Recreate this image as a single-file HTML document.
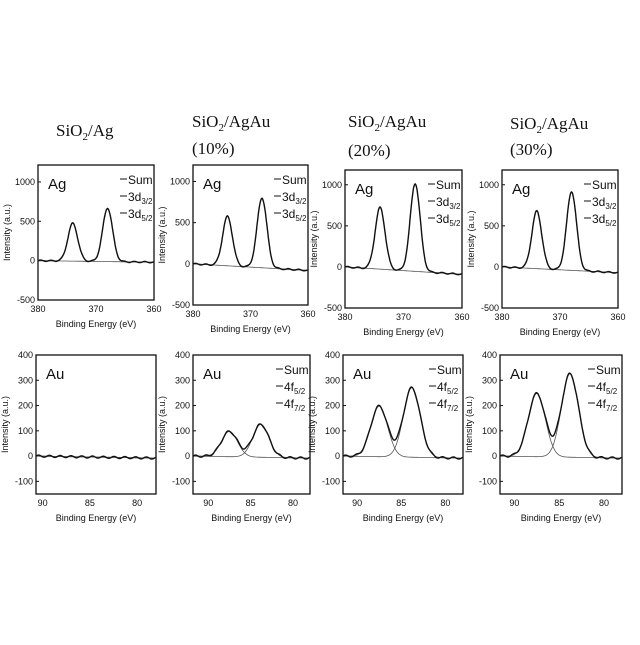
<!DOCTYPE html>
<html><head><meta charset="utf-8"><style>
body{margin:0;background:#fff}
svg text{font-family:"Liberation Sans",sans-serif;fill:#111}
.t{font-family:"Liberation Serif",serif;font-size:17px}
.k{font-size:9px}
</style></head><body>
<svg id="s" width="640" height="640" xmlns="http://www.w3.org/2000/svg">
<text class="t" x="56" y="136">SiO<tspan font-size="11" dy="4">2</tspan><tspan dy="-4">/Ag</tspan></text>
<text class="t" x="192" y="127">SiO<tspan font-size="11" dy="4">2</tspan><tspan dy="-4">/AgAu</tspan></text>
<text class="t" x="192" y="154">(10%)</text>
<text class="t" x="348" y="127">SiO<tspan font-size="11" dy="4">2</tspan><tspan dy="-4">/AgAu</tspan></text>
<text class="t" x="348" y="156">(20%)</text>
<text class="t" x="510" y="129">SiO<tspan font-size="11" dy="4">2</tspan><tspan dy="-4">/AgAu</tspan></text>
<text class="t" x="510" y="155">(30%)</text>
</svg>
<script>
var s=document.getElementById('s'),h='';
function P(o){
 var X=function(v){return o.x0+(o.xa-v)/(o.xa-o.xb)*(o.x1-o.x0)},Y=function(v){return o.y1-(v-o.ymin)/(o.ymax-o.ymin)*(o.y1-o.y0)};
 h+='<rect x="'+o.x0+'" y="'+o.y0+'" width="'+(o.x1-o.x0)+'" height="'+(o.y1-o.y0)+'" fill="none" stroke="#111" stroke-width="1.3"/>';
 o.yt.forEach(function(t){var y=Y(t);h+='<text class="k" x="'+(o.x0-3)+'" y="'+(y+3)+'" text-anchor="end">'+t+'</text><line x1="'+o.x0+'" x2="'+(o.x0+3)+'" y1="'+y+'" y2="'+y+'" stroke="#111"/>';});
 o.xt.forEach(function(t){var x=X(t);h+='<text class="k" x="'+x+'" y="'+(o.y1+12)+'" text-anchor="middle">'+t+'</text>';});
 h+='<text class="k" x="'+((o.x0+o.x1)/2)+'" y="'+(o.y1+27)+'" text-anchor="middle" font-size="8">Binding Energy (eV)</text>';
 var cy=(o.y0+o.y1)/2;h+='<text class="k" font-size="8" transform="translate('+(o.x0-28)+','+cy+') rotate(-90)" text-anchor="middle">Intensity (a.u.)</text>';
 h+='<text x="'+(o.x0+10)+'" y="'+(o.y0+24)+'" font-size="15">'+o.lab+'</text>';
 o.leg.forEach(function(l,i){var y=o.y0+19+i*17;h+='<line x1="'+(o.x1-34)+'" x2="'+(o.x1-27)+'" y1="'+(y-5)+'" y2="'+(y-5)+'" stroke="#111"/><text x="'+(o.x1-26)+'" y="'+y+'" font-size="12">'+l[0]+'<tspan font-size="8" dy="3">'+l[1]+'</tspan></text>';});
 if(o.pk){var d='',d1='',d2='';for(var i=0;i<=200;i++){var e=o.xa-(o.xa-o.xb)*i/200,bg=o.bg*(i/200)+o.wig*Math.sin(i*0.35),g1=o.pk[0][1]*Math.exp(-Math.pow((e-o.pk[0][0])/o.sg,2)/2),g2=o.pk[1][1]*Math.exp(-Math.pow((e-o.pk[1][0])/o.sg,2)/2);var x=X(e).toFixed(1);d+=(i?'L':'M')+x+','+Y(g1+g2+bg).toFixed(1);d1+=(i?'L':'M')+x+','+Y(g1+o.bg*(i/200)).toFixed(1);d2+=(i?'L':'M')+x+','+Y(g2+o.bg*(i/200)).toFixed(1);}
 h+='<path d="'+d1+'" fill="none" stroke="#555" stroke-width="0.8"/><path d="'+d2+'" fill="none" stroke="#555" stroke-width="0.8"/><path d="'+d+'" fill="none" stroke="#111" stroke-width="1.4"/>';}
}
var agL=[['Sum',''],['3d','3/2'],['3d','5/2']],auL=[['Sum',''],['4f','5/2'],['4f','7/2']];
function ag(x0,x1,y0,y1,ymax,p1,p2,bg){P({x0:x0,x1:x1,y0:y0,y1:y1,xa:380,xb:360,ymin:-500,ymax:ymax,yt:[1000,500,0,-500],xt:[380,370,360],lab:'Ag',leg:agL,pk:[[374,p1],[368,p2]],sg:0.85,bg:bg,wig:8});}
ag(38,154,165,300,1215,480,680,-20);
ag(193,308,165,305,1200,600,850,-80);
ag(345,462,170,308,1180,750,1070,-90);
ag(502,618,170,308,1180,700,960,-70);
var Y4=[400,300,200,100,0,-100];
function au(x0,x1,xa,p1,p2,leg){P({x0:x0,x1:x1,y0:355,y1:494,xa:xa,xb:78,ymin:-150,ymax:400,yt:Y4,xt:[90,85,80],lab:'Au',leg:leg?auL:[],pk:[[87.5,p1],[83.8,p2]],sg:0.95,bg:-8,wig:4});}
au(36,156,90.7,0,0,0);
au(193,310,91.8,100,130,1);
au(343,463,91.6,200,275,1);
au(500,622,91.6,250,330,1);
s.insertAdjacentHTML('beforeend',h);
</script>
</body></html>
